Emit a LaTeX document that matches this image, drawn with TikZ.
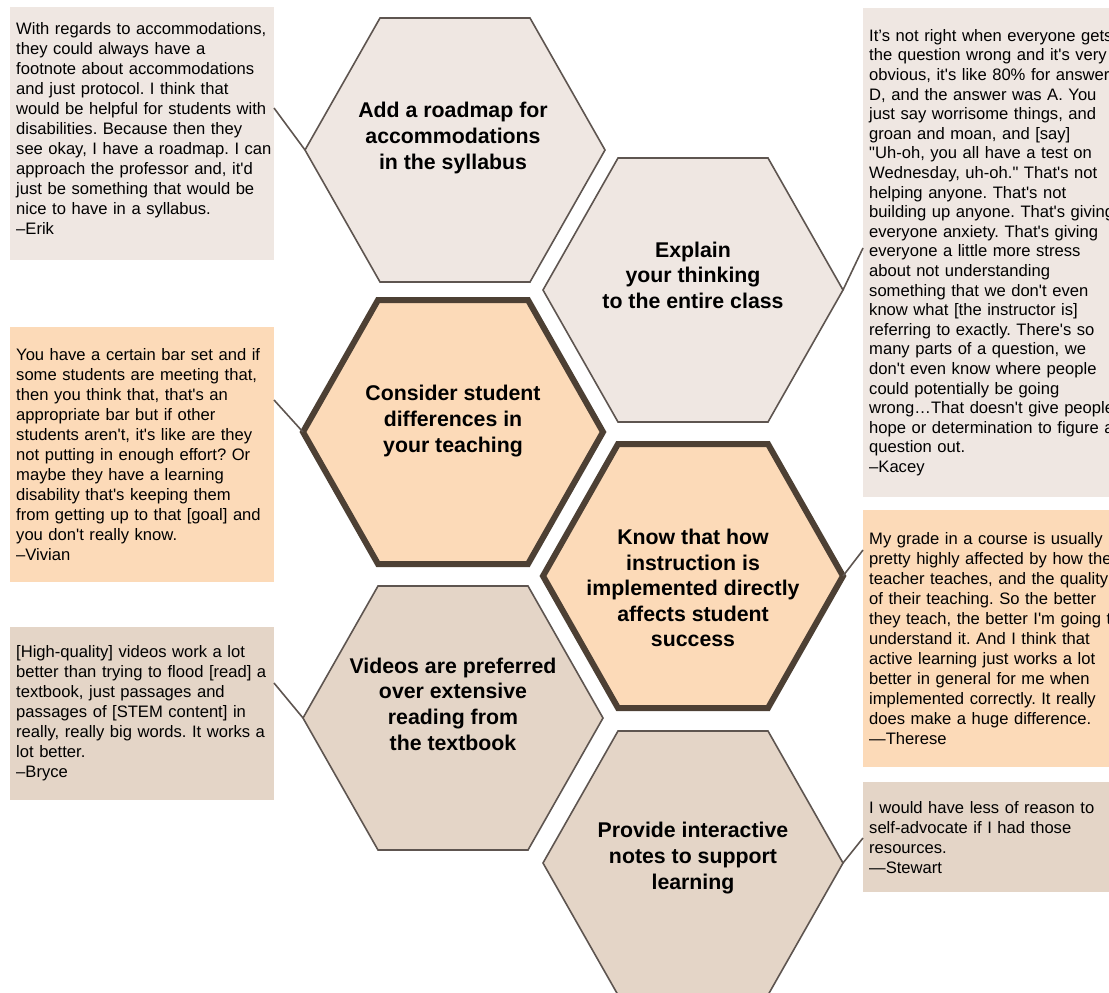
\documentclass[tikz,border=0pt]{standalone}
\usepackage{fontspec}
\setmainfont{Liberation Sans}
\newfontfamily\quotefont{Liberation Sans}
\usepackage{xcolor}
\usetikzlibrary{positioning}

\definecolor{paleGrey}{HTML}{EFE7E2}
\definecolor{peach}{HTML}{FCDAB8}
\definecolor{sand}{HTML}{E4D5C7}
\definecolor{edgeGrey}{HTML}{5E5550}
\definecolor{edgeDark}{HTML}{4D4034}

% flat-top hexagon: #1 name, #2 x, #3 y, #4 style
\newcommand{\hexcell}[4]{%
    \coordinate (#1) at (#2,#3);
    \draw[#4] (#2-150,#3) -- (#2-75,#3-132) -- (#2+75,#3-132) -- (#2+150,#3)
        -- (#2+75,#3+132) -- (#2-75,#3+132) -- cycle;
    \coordinate (#1-w) at (#2-150,#3);
    \coordinate (#1-e) at (#2+150,#3);
}

\tikzset{
    hexthin/.style={draw=edgeGrey, line width=1.6pt},
    hexthick/.style={draw=edgeDark, line width=6pt},
    hexlabel/.style={font=\fontsize{21.3}{25.6}\selectfont\bfseries, align=center, inner sep=0pt},
    quote/.style={anchor=north west, font=\quotefont\fontsize{16.6}{20}\selectfont\frenchspacing,
        align=left, inner xsep=6pt, inner ysep=0pt, text width=252pt},
    link/.style={draw=edgeGrey, line width=1.6pt}
}

\begin{document}
\begin{tikzpicture}[x=1pt, y=-1pt]
    \useasboundingbox (0,0) rectangle (1109,993);

    % Quote boxes, left side
    \node[quote, fill=paleGrey, minimum height=253pt] (erik) at (10,7)
        {With regards to accommodations,\\they could always have a\\footnote about accommodations\\and just protocol. I think that\\would be helpful for students with\\disabilities. Because then they\\\mbox{see okay, I have a roadmap. I can}\\approach the professor and, it'd\\just be something that would be\\nice to have in a syllabus.\\–Erik\\[-10pt]\mbox{}};
    \node[quote, fill=peach, minimum height=255pt] (vivian) at (10,327)
        {You have a certain bar set and if\\some students are meeting that,\\then you think that, that's an\\appropriate bar but if other\\students aren't, it's like are they\\not putting in enough effort? Or\\maybe they have a learning\\disability that's keeping them\\from getting up to that [goal] and\\you don't really know.\\–Vivian};
    \node[quote, fill=sand, minimum height=173pt] (bryce) at (10,627)
        {[High-quality] videos work a lot\\better than trying to flood [read] a\\textbook, just passages and\\passages of [STEM content] in\\really, really big words. It works a\\lot better.\\–Bryce};

    % Quote boxes, right side
    \node[quote, fill=paleGrey, minimum height=489pt,
        font=\quotefont\fontsize{16.6}{19.6}\selectfont\frenchspacing] (kacey) at (863,8)
        {It’s not right when everyone gets\\the question wrong and it's very\\obvious, it's like 80\% for answer\\D, and the answer was A. You\\just say worrisome things, and\\groan and moan, and [say]\\"Uh-oh, you all have a test on\\Wednesday, uh-oh." That's not\\helping anyone. That's not\\building up anyone. That's giving\\everyone anxiety. That's giving\\everyone a little more stress\\about not understanding\\something that we don't even\\know what [the instructor is]\\referring to exactly. There's so\\many parts of a question, we\\don't even know where people\\could potentially be going\\wrong…That doesn't give people\\hope or determination to figure a\\question out.\\–Kacey};
    \node[quote, fill=peach, minimum height=257pt] (therese) at (863,510)
        {My grade in a course is usually\\pretty highly affected by how the\\teacher teaches, and the quality\\of their teaching. So the better\\they teach, the better I'm going to\\understand it. And I think that\\active learning just works a lot\\better in general for me when\\implemented correctly. It really\\does make a huge difference.\\—Therese};
    \node[quote, fill=sand, minimum height=110pt] (stewart) at (863,782)
        {I would have less of reason to\\self-advocate if I had those\\resources.\\—Stewart};

    % Hexagons
    \hexcell{h1}{455}{150}{hexthin, fill=paleGrey}
    \hexcell{h2}{693}{290}{hexthin, fill=paleGrey}
    \hexcell{h3}{453}{432}{hexthick, fill=peach}
    \hexcell{h4}{693}{576}{hexthick, fill=peach}
    \hexcell{h5}{453}{718}{hexthin, fill=sand}
    \hexcell{h6}{693}{863}{hexthin, fill=sand}

    % Hexagon labels
    \node[hexlabel] (roadmap)  at (453,138) {Add a roadmap for\\accommodations\\in the syllabus};
    \node[hexlabel] (explain)  at (693,275) {Explain\\your thinking\\to the entire class};
    \node[hexlabel] (consider) at (453,421) {Consider student\\differences in\\your teaching};
    \node[hexlabel] (know)     at (693,588) {Know that how\\instruction is\\implemented directly\\affects student\\success};
    \node[hexlabel] (videos)   at (453,704) {Videos are preferred\\over extensive\\reading from\\the textbook};
    \node[hexlabel] (notes)    at (693,858) {Provide interactive\\notes to support\\learning};

    % Connectors between quotes and hexagons
    \coordinate (erik-out)    at (274,108);
    \coordinate (vivian-out)  at (274,400);
    \coordinate (bryce-out)   at (274,683);
    \coordinate (kacey-in)    at (863,248);
    \coordinate (therese-in)  at (863,550);
    \coordinate (stewart-in)  at (863,838);
    \draw[link] (erik-out) -- (h1-w);
    \draw[link] (vivian-out) -- (h3-w);
    \draw[link] (bryce-out) -- (h5-w);
    \draw[link] (h2-e) -- (kacey-in);
    \draw[link] (h4-e) -- (therese-in);
    \draw[link] (h6-e) -- (stewart-in);
\end{tikzpicture}
\end{document}
